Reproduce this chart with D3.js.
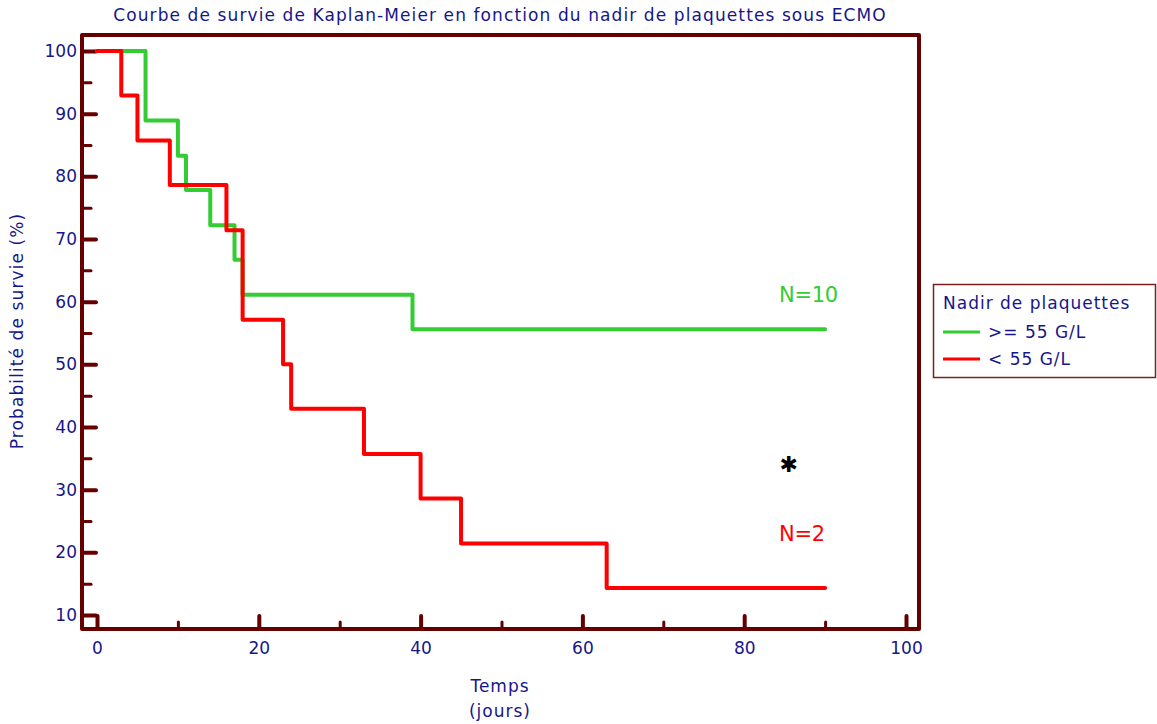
<!DOCTYPE html>
<html><head><meta charset="utf-8">
<script src="https://cdn.jsdelivr.net/npm/d3@7"></script>
<style>
html,body{margin:0;padding:0;background:#fff;}
svg{display:block;}
text{font-family:"DejaVu Sans",sans-serif;}
</style></head>
<body>
<svg id="chart" width="1157" height="724"></svg>
<script>
// ---- data ----
const title = "Courbe de survie de Kaplan-Meier en fonction du nadir de plaquettes sous ECMO";
const yLabel = "Probabilité de survie (%)";
const xLabelLines = ["Temps", "(jours)"];
const legendTitle = "Nadir de plaquettes";
const seriesNames = [">= 55 G/L", "< 55 G/L"];
const seriesColors = ["#33cc33", "#ff0000"];
// step curves: time (days) and survival (%) after each event
const highTimes = [0, 6, 10, 11, 14, 17, 18, 39, 90];
const highSurv  = [100, 88.9, 83.3, 77.8, 72.2, 66.7, 61.1, 55.6, 55.6];
const lowTimes  = [0, 3, 5, 9, 16, 18, 23, 24, 33, 40, 45, 63, 90];
const lowSurv   = [100, 92.9, 85.7, 78.6, 71.4, 57.1, 50.0, 42.9, 35.7, 28.6, 21.4, 14.3, 14.3];
const xMajorTicks = [0, 20, 40, 60, 80, 100];
const xMinorTicks = [10, 30, 50, 70, 90];
const yMajorTicks = [10, 20, 30, 40, 50, 60, 70, 80, 90, 100];
const yMinorTicks = [15, 25, 35, 45, 55, 65, 75, 85, 95];
const annotations = [
  {text: "N=10", t: 84.3, v: 60.0, color: "#33cc33"},
  {text: "N=2", t: 84.3, v: 21.8, color: "#ff0000"}
];
const starPos = {t: 85.5, v: 34.0};

// ---- layout ----
const svg = d3.select("#chart");
const frame = {left: 82, right: 919, top: 35, bottom: 629};
const x = d3.scaleLinear().domain([0, 100]).range([97, 906]);
const y = d3.scaleLinear().domain([10, 100]).range([615, 51]);
const maroon = "#660000";
const navy = "#16168a";
const FS = 17, LS = "1px";

// title
svg.append("text").attr("id", "title").attr("x", 500).attr("y", 21).attr("text-anchor", "middle")
  .attr("fill", navy).attr("font-size", FS).attr("letter-spacing", "1.1px").text(title);

// frame
svg.append("rect").attr("x", frame.left).attr("y", frame.top)
  .attr("width", frame.right - frame.left).attr("height", frame.bottom - frame.top)
  .attr("fill", "none").attr("stroke", maroon).attr("stroke-width", 4)
  .attr("stroke-linejoin", "round");

// axes
function styleAxis(g, w) {
  g.select(".domain").remove();
  g.selectAll(".tick line").attr("stroke", maroon).attr("stroke-width", w).attr("stroke-linecap", "round");
  g.selectAll(".tick text").attr("fill", navy).attr("font-size", FS)
    .attr("font-family", "'DejaVu Sans',sans-serif");
}
const yAxisMajor = svg.append("g").attr("transform", `translate(${frame.left},0)`)
  .call(d3.axisLeft(y).tickValues(yMajorTicks).tickSize(-14).tickPadding(5));
styleAxis(yAxisMajor, 4);
const yAxisMinor = svg.append("g").attr("transform", `translate(${frame.left},0)`)
  .call(d3.axisLeft(y).tickValues(yMinorTicks).tickSize(-9).tickFormat(""));
styleAxis(yAxisMinor, 3);
const xAxisMajor = svg.append("g").attr("transform", `translate(0,${frame.bottom})`)
  .call(d3.axisBottom(x).tickValues(xMajorTicks).tickSize(-13).tickPadding(13));
styleAxis(xAxisMajor, 4);
const xAxisMinor = svg.append("g").attr("transform", `translate(0,${frame.bottom})`)
  .call(d3.axisBottom(x).tickValues(xMinorTicks).tickSize(-7).tickFormat(""));
styleAxis(xAxisMinor, 3);

// axis labels
svg.append("text").attr("transform", "translate(23,331) rotate(-90)")
  .attr("text-anchor", "middle").attr("fill", navy).attr("font-size", FS)
  .attr("letter-spacing", "1.1px").text(yLabel);
xLabelLines.forEach((s, i) => {
  svg.append("text").attr("x", 500).attr("y", 692 + i * 25).attr("text-anchor", "middle")
    .attr("fill", navy).attr("font-size", FS).attr("letter-spacing", LS).text(s);
});

// curves
const stepLine = d3.line().x(d => x(d[0])).y(d => y(d[1])).curve(d3.curveStepAfter);
const series = [
  {times: highTimes, surv: highSurv},
  {times: lowTimes, surv: lowSurv}
];
series.forEach((s, i) => {
  const pts = s.times.map((t, j) => [t, s.surv[j]]);
  svg.append("path").datum(pts).attr("d", stepLine)
    .attr("fill", "none").attr("stroke", seriesColors[i]).attr("stroke-width", 4)
    .attr("stroke-linejoin", "round").attr("stroke-linecap", "round");
});

// annotations
annotations.forEach(a => {
  svg.append("text").attr("x", x(a.t)).attr("y", y(a.v)).attr("fill", a.color)
    .attr("font-size", 21).attr("letter-spacing", "-0.3px").text(a.text);
});
svg.append("text").attr("x", x(starPos.t)).attr("y", y(starPos.v)).attr("text-anchor", "middle")
  .attr("dominant-baseline", "central").attr("font-size", 22).attr("fill", "#000")
  .text("\u2731");

// legend
const lg = svg.append("g");
lg.append("rect").attr("x", 933.5).attr("y", 284.5).attr("width", 222).attr("height", 93)
  .attr("fill", "#fff").attr("stroke", "#7a2020").attr("stroke-width", 1.5);
lg.append("text").attr("x", 943).attr("y", 309).attr("fill", navy).attr("font-size", FS)
  .attr("letter-spacing", LS).text(legendTitle);
seriesNames.forEach((n, i) => {
  const yy = 332 + i * 27;
  lg.append("line").attr("x1", 943).attr("x2", 980).attr("y1", yy).attr("y2", yy)
    .attr("stroke", seriesColors[i]).attr("stroke-width", 3);
  lg.append("text").attr("x", 988).attr("y", yy + 6).attr("fill", navy).attr("font-size", FS)
    .attr("letter-spacing", LS).text(n);
});
</script>
</body></html>
